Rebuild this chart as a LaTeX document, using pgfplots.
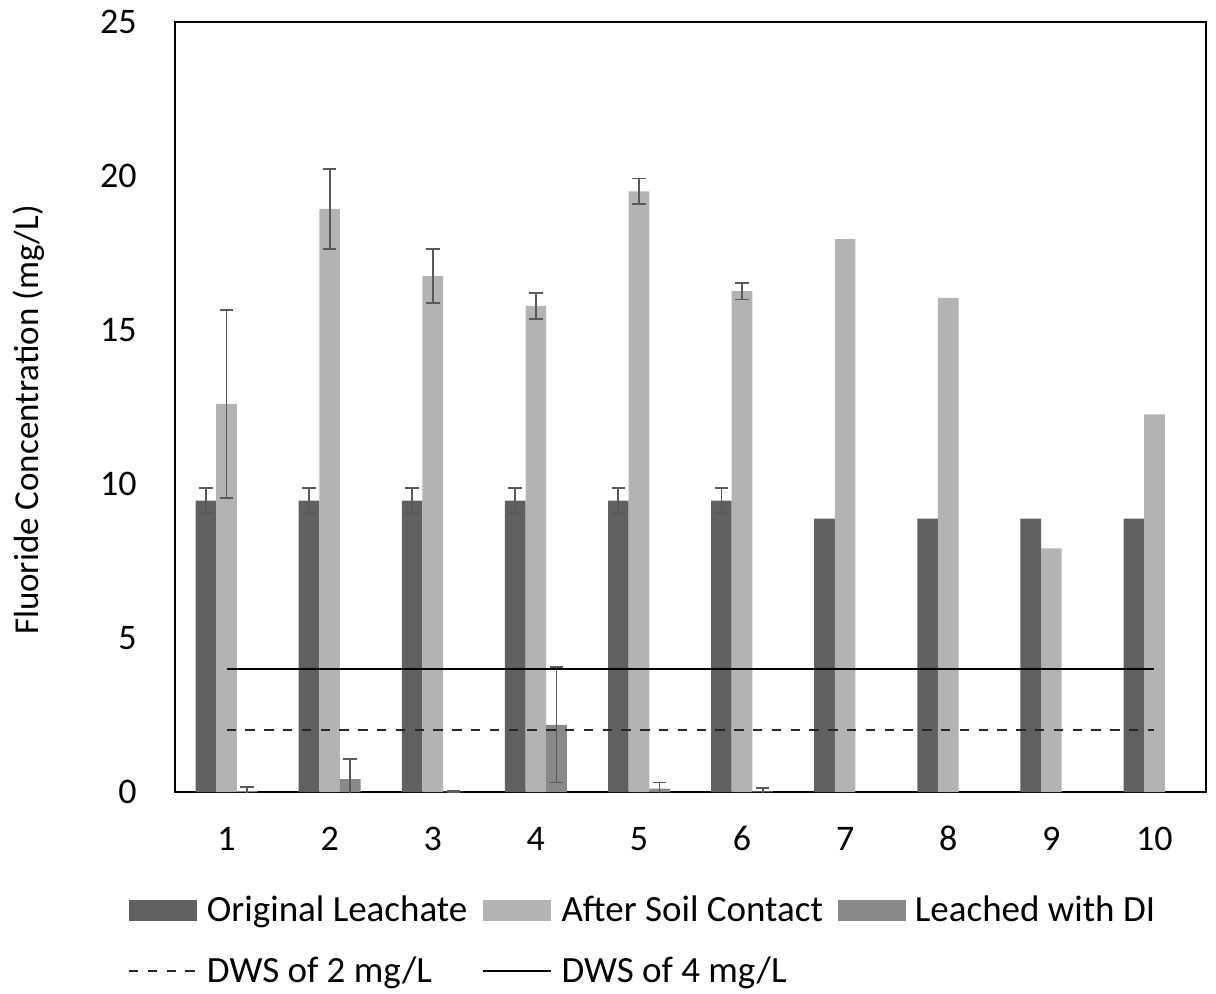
\documentclass[border=0pt]{standalone}
\usepackage{pgfplots}
\pgfplotsset{compat=1.18}
\usepackage{fontspec}
\setmainfont{Carlito}
\definecolor{orig}{RGB}{96,96,96}
\definecolor{soil}{RGB}{179,179,179}
\definecolor{leach}{RGB}{137,137,137}
\definecolor{errc}{RGB}{89,89,89}
\newcommand{\fs}{\fontsize{18}{21.6}\selectfont}
\newcommand{\fl}{\fontsize{18.5}{22}\selectfont}
\pgfplotsset{
 barlegend/.style={legend image code/.code={\fill[##1,/tikz/.cd,draw=none] (0pt,-5.25pt) rectangle (34pt,5.25pt);}},
 linelegend/.style={legend image code/.code={\draw[##1,/tikz/.cd] (0pt,0pt) -- (34pt,0pt);}},
 errbars/.style={forget plot, draw=none, mark=none,
   error bars/.cd, y dir=both, y explicit,
   error bar style={draw=errc, line width=0.9pt, solid},
   error mark=-,
   error mark options={rotate=90, draw=errc, line width=0.9pt, mark size=3.4pt}},
}
\begin{document}
\begin{tikzpicture}
\begin{axis}[
 at={(0,0)}, anchor=south west,
 scale only axis, width=515.5pt, height=385pt,
 xmin=0.5, xmax=10.5, ymin=0, ymax=25,
 xtick={1,...,10}, ytick={0,5,...,25},
 major tick length=0pt,
 axis line style={line width=0.75pt, black},
 /pgf/number format/assume math mode=true,
 tick label style={font=\fs},
 yticklabel style={anchor=east, inner sep=0pt, xshift=-19pt},
 xticklabel style={anchor=north, inner sep=0pt, yshift=-17.5pt, text height=11.4pt, text depth=0pt},
 ylabel={Fluoride Concentration (mg/L)},
 every axis y label/.style={at={([xshift=-81pt]axis description cs:0,0.483)}, rotate=90, anchor=north, inner sep=0pt, font=\fontsize{17.5}{21}\selectfont},
 legend columns=3,
 legend cell align=left,
 legend style={draw=none, fill=none, inner sep=0pt, outer sep=0pt,
   at={([xshift=-23.5pt,yshift=-52pt]axis description cs:0,0)}, anchor=north west,
   font=\fl, row sep=16pt, nodes={inner sep=0pt},
   /tikz/every odd column/.append style={column sep=4.5pt},
   /tikz/every even column/.append style={column sep=7.5pt}},
]
% bars
\addplot[ybar, bar width=0.2, bar shift=0pt, fill=orig, draw=none, barlegend] table {
x y
0.8 9.46
1.8 9.46
2.8 9.46
3.8 9.46
4.8 9.46
5.8 9.46
6.8 8.88
7.8 8.88
8.8 8.88
9.8 8.88
};
\addlegendentry{Original Leachate}
\addplot[ybar, bar width=0.2, bar shift=0pt, fill=soil, draw=none, barlegend] table {
x y
1 12.60
2 18.93
3 16.75
4 15.78
5 19.50
6 16.26
7 17.95
8 16.04
9 7.91
10 12.26
};
\addlegendentry{After Soil Contact}
\addplot[ybar, bar width=0.2, bar shift=0pt, fill=leach, draw=none, barlegend] table {
x y
1.2 0.03
2.2 0.42
3.2 0.01
4.2 2.18
5.2 0.11
6.2 0.02
};
\addlegendentry{Leached with DI}
% error bars
\addplot[errbars] table[x=x, y=y, y error=e] {
x y e
0.8 9.46 0.41
1.8 9.46 0.41
2.8 9.46 0.41
3.8 9.46 0.41
4.8 9.46 0.41
5.8 9.46 0.41
};
\addplot[errbars] table[x=x, y=y, y error=e] {
x y e
1 12.60 3.05
2 18.93 1.30
3 16.75 0.88
4 15.78 0.43
5 19.50 0.42
6 16.26 0.27
};
\addplot[errbars] table[x=x, y=y, y error=e] {
x y e
1.2 0.03 0.12
2.2 0.42 0.66
3.2 0.01 0.02
4.2 2.18 1.87
5.2 0.11 0.20
6.2 0.02 0.12
};
% standards
\addplot[linelegend, black!85, line width=1pt, dash pattern=on 4.7pt off 4.7pt, mark=none] coordinates {(1,2) (10,2)};
\addlegendentry{DWS of 2 mg/L}
\addplot[linelegend, black, line width=1.1pt, mark=none] coordinates {(1,4) (10,4)};
\addlegendentry{DWS of 4 mg/L}
\end{axis}
\pgfresetboundingbox
\useasboundingbox (-87.5pt,-100.5pt) rectangle (520.5pt,396pt);
\end{tikzpicture}
\end{document}
